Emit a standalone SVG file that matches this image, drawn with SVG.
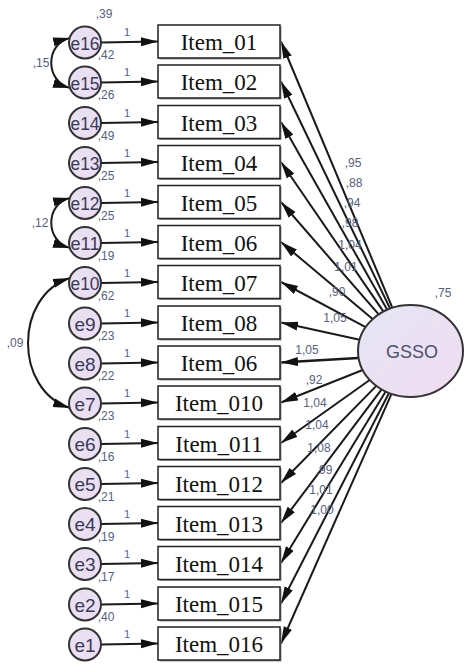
<svg xmlns="http://www.w3.org/2000/svg" width="465" height="664" viewBox="0 0 465 664">
  <defs>
    <marker id="arrow" markerUnits="userSpaceOnUse" markerWidth="18" markerHeight="10" refX="17" refY="5" orient="auto">
      <path d="M0,0.5 L17,5 L0,9.5 Z" fill="#111"/>
    </marker>
    <marker id="arrow2" markerUnits="userSpaceOnUse" markerWidth="18" markerHeight="10" refX="17" refY="5" orient="auto-start-reverse">
      <path d="M0,0.5 L17,5 L0,9.5 Z" fill="#111"/>
    </marker>
    <linearGradient id="errFill" x1="0" y1="0" x2="1" y2="1">
      <stop offset="0" stop-color="#e6e2f2"/>
      <stop offset="1" stop-color="#eedcf2"/>
    </linearGradient>
    <linearGradient id="latFill" x1="0" y1="0" x2="1" y2="1">
      <stop offset="0" stop-color="#e4e6f4"/>
      <stop offset="1" stop-color="#f2dcf2"/>
    </linearGradient>
  </defs>
  <style>
    .box { fill: #fff; stroke: #222; stroke-width: 1.5; }
    .shadow { fill: #9a9a9a; }
    .item { font-family: "Liberation Serif", "Times New Roman", serif; font-size: 23px; fill: #111; text-anchor: middle; }
    .err { fill: url(#errFill); stroke: #333; stroke-width: 2; }
    .elbl { font-family: "Liberation Sans", Arial, sans-serif; font-size: 19px; fill: #3a3a58; text-anchor: middle; }
    .path { stroke: #1a1a1a; stroke-width: 2; fill: none; marker-end: url(#arrow); }
    .cov { stroke: #1a1a1a; stroke-width: 2; fill: none; marker-start: url(#arrow2); marker-end: url(#arrow2); }
    .est { font-family: "Liberation Sans", Arial, sans-serif; font-size: 12px; fill: #56607e; text-anchor: middle; }
    .one { font-family: "Liberation Sans", Arial, sans-serif; font-size: 11px; fill: #4862a0; text-anchor: middle; }
    .lat { fill: url(#latFill); stroke: #333; stroke-width: 2; }
    .latlbl { font-family: "Liberation Sans", Arial, sans-serif; font-size: 18px; fill: #4a5070; text-anchor: middle; }
  </style>

  <!-- connectors: error paths, covariances, loadings -->
  <g id="connectors">
    <line class="path" x1="101" y1="42.5" x2="158" y2="41.5"/>
    <line class="path" x1="101" y1="82.5" x2="158" y2="81.5"/>
    <line class="path" x1="101" y1="123" x2="158" y2="122"/>
    <line class="path" x1="101" y1="163" x2="158" y2="162"/>
    <line class="path" x1="101" y1="203" x2="158" y2="202"/>
    <line class="path" x1="101" y1="243" x2="158" y2="242"/>
    <line class="path" x1="101" y1="283" x2="158" y2="282"/>
    <line class="path" x1="101" y1="323.5" x2="158" y2="322.5"/>
    <line class="path" x1="101" y1="363.5" x2="158" y2="362.5"/>
    <line class="path" x1="101" y1="403.5" x2="158" y2="402.5"/>
    <line class="path" x1="101" y1="444" x2="158" y2="443"/>
    <line class="path" x1="101" y1="484" x2="158" y2="483"/>
    <line class="path" x1="101" y1="524" x2="158" y2="523"/>
    <line class="path" x1="101" y1="564" x2="158" y2="563"/>
    <line class="path" x1="101" y1="604.5" x2="158" y2="603.5"/>
    <line class="path" x1="101" y1="644.5" x2="158" y2="643.5"/>

    <path class="cov" d="M70,38 C45,44 45,81 70,88"/>
    <path class="cov" d="M70,198 C45,204 45,241 70,248"/>
    <path class="cov" d="M70,278 C14,296 14,390 70,408"/>

    <line class="path" x1="392.4" y1="307.8" x2="281" y2="41.5"/>
    <line class="path" x1="390.1" y1="308.6" x2="281" y2="81.5"/>
    <line class="path" x1="387.2" y1="309.8" x2="281" y2="122"/>
    <line class="path" x1="383.5" y1="311.6" x2="281" y2="162"/>
    <line class="path" x1="378.7" y1="314.4" x2="281" y2="202"/>
    <line class="path" x1="372.6" y1="319.1" x2="281" y2="242"/>
    <line class="path" x1="365.6" y1="327.1" x2="281" y2="282"/>
    <line class="path" x1="359.6" y1="339.8" x2="281" y2="322.5"/>
    <line class="path" x1="358.3" y1="358" x2="281" y2="362.5" style="stroke-width:2.5"/>
    <line class="path" x1="362.7" y1="370" x2="281" y2="402.5"/>
    <line class="path" x1="369.7" y1="380" x2="281" y2="443"/>
    <line class="path" x1="376.3" y1="385.9" x2="281" y2="483"/>
    <line class="path" x1="381.6" y1="389.4" x2="281" y2="523"/>
    <line class="path" x1="385.7" y1="391.6" x2="281" y2="563"/>
    <line class="path" x1="389" y1="393" x2="281" y2="603.5"/>
    <line class="path" x1="391.5" y1="393.9" x2="281" y2="643.5"/>
  </g>

  <!-- path weights of 1 -->
  <g id="fixed-weights">
    <text class="one" x="127" y="36">1</text>
    <text class="one" x="127" y="76">1</text>
    <text class="one" x="127" y="116.5">1</text>
    <text class="one" x="127" y="156.5">1</text>
    <text class="one" x="127" y="196.5">1</text>
    <text class="one" x="127" y="236.5">1</text>
    <text class="one" x="127" y="276.5">1</text>
    <text class="one" x="127" y="317">1</text>
    <text class="one" x="127" y="357">1</text>
    <text class="one" x="127" y="397">1</text>
    <text class="one" x="127" y="437.5">1</text>
    <text class="one" x="127" y="477.5">1</text>
    <text class="one" x="127" y="517.5">1</text>
    <text class="one" x="127" y="557.5">1</text>
    <text class="one" x="127" y="598">1</text>
    <text class="one" x="127" y="638">1</text>
  </g>

  <!-- covariance estimates -->
  <g id="covariances">
    <text class="est" x="41" y="67">,15</text>
    <text class="est" x="40" y="227">,12</text>
    <text class="est" x="15" y="347">,09</text>
  </g>

  <!-- loading estimates -->
  <g id="loadings">
    <text class="est" x="353" y="167">,95</text>
    <text class="est" x="354" y="187">,88</text>
    <text class="est" x="352" y="207">,94</text>
    <text class="est" x="350" y="227">,98</text>
    <text class="est" x="350" y="249">1,04</text>
    <text class="est" x="346" y="271">1,01</text>
    <text class="est" x="337" y="296">,90</text>
    <text class="est" x="335" y="322">1,05</text>
    <text class="est" x="307" y="354">1,05</text>
    <text class="est" x="314" y="384">,92</text>
    <text class="est" x="315" y="407">1,04</text>
    <text class="est" x="317" y="429">1,04</text>
    <text class="est" x="319" y="452">1,08</text>
    <text class="est" x="324" y="474">,99</text>
    <text class="est" x="321" y="494">1,01</text>
    <text class="est" x="322" y="514">1,00</text>
  </g>

  <!-- observed items -->
  <g id="item01"><rect class="shadow" x="159.5" y="26.5" width="122" height="33"/><rect class="box" x="158" y="25" width="122" height="33"/><text class="item" x="219" y="50">Item_01</text></g>
  <g id="item02"><rect class="shadow" x="159.5" y="66.5" width="122" height="33"/><rect class="box" x="158" y="65" width="122" height="33"/><text class="item" x="219" y="90">Item_02</text></g>
  <g id="item03"><rect class="shadow" x="159.5" y="107" width="122" height="33"/><rect class="box" x="158" y="105.5" width="122" height="33"/><text class="item" x="219" y="130.5">Item_03</text></g>
  <g id="item04"><rect class="shadow" x="159.5" y="147" width="122" height="33"/><rect class="box" x="158" y="145.5" width="122" height="33"/><text class="item" x="219" y="170.5">Item_04</text></g>
  <g id="item05"><rect class="shadow" x="159.5" y="187" width="122" height="33"/><rect class="box" x="158" y="185.5" width="122" height="33"/><text class="item" x="219" y="210.5">Item_05</text></g>
  <g id="item06"><rect class="shadow" x="159.5" y="227" width="122" height="33"/><rect class="box" x="158" y="225.5" width="122" height="33"/><text class="item" x="219" y="250.5">Item_06</text></g>
  <g id="item07"><rect class="shadow" x="159.5" y="267" width="122" height="33"/><rect class="box" x="158" y="265.5" width="122" height="33"/><text class="item" x="219" y="290.5">Item_07</text></g>
  <g id="item08"><rect class="shadow" x="159.5" y="307.5" width="122" height="33"/><rect class="box" x="158" y="306" width="122" height="33"/><text class="item" x="219" y="331">Item_08</text></g>
  <g id="item09"><rect class="shadow" x="159.5" y="347.5" width="122" height="33"/><rect class="box" x="158" y="346" width="122" height="33"/><text class="item" x="219" y="371">Item_06</text></g>
  <g id="item10"><rect class="shadow" x="159.5" y="387.5" width="122" height="33"/><rect class="box" x="158" y="386" width="122" height="33"/><text class="item" x="219" y="411">Item_010</text></g>
  <g id="item11"><rect class="shadow" x="159.5" y="428" width="122" height="33"/><rect class="box" x="158" y="426.5" width="122" height="33"/><text class="item" x="219" y="451.5">Item_011</text></g>
  <g id="item12"><rect class="shadow" x="159.5" y="468" width="122" height="33"/><rect class="box" x="158" y="466.5" width="122" height="33"/><text class="item" x="219" y="491.5">Item_012</text></g>
  <g id="item13"><rect class="shadow" x="159.5" y="508" width="122" height="33"/><rect class="box" x="158" y="506.5" width="122" height="33"/><text class="item" x="219" y="531.5">Item_013</text></g>
  <g id="item14"><rect class="shadow" x="159.5" y="548" width="122" height="33"/><rect class="box" x="158" y="546.5" width="122" height="33"/><text class="item" x="219" y="571.5">Item_014</text></g>
  <g id="item15"><rect class="shadow" x="159.5" y="588.5" width="122" height="33"/><rect class="box" x="158" y="587" width="122" height="33"/><text class="item" x="219" y="612">Item_015</text></g>
  <g id="item16"><rect class="shadow" x="159.5" y="628.5" width="122" height="33"/><rect class="box" x="158" y="627" width="122" height="33"/><text class="item" x="219" y="652">Item_016</text></g>

  <!-- error terms -->
  <g id="e16"><circle class="err" cx="85" cy="42.5" r="16"/><text class="elbl" x="85" y="49.5" textLength="29" lengthAdjust="spacingAndGlyphs">e16</text></g>
  <g id="e15"><circle class="err" cx="85" cy="82.5" r="16"/><text class="elbl" x="85" y="89.5" textLength="29" lengthAdjust="spacingAndGlyphs">e15</text></g>
  <g id="e14"><circle class="err" cx="85" cy="123" r="16"/><text class="elbl" x="85" y="130" textLength="29" lengthAdjust="spacingAndGlyphs">e14</text></g>
  <g id="e13"><circle class="err" cx="85" cy="163" r="16"/><text class="elbl" x="85" y="170" textLength="29" lengthAdjust="spacingAndGlyphs">e13</text></g>
  <g id="e12"><circle class="err" cx="85" cy="203" r="16"/><text class="elbl" x="85" y="210" textLength="29" lengthAdjust="spacingAndGlyphs">e12</text></g>
  <g id="e11"><circle class="err" cx="85" cy="243" r="16"/><text class="elbl" x="85" y="250" textLength="29" lengthAdjust="spacingAndGlyphs">e11</text></g>
  <g id="e10"><circle class="err" cx="85" cy="283" r="16"/><text class="elbl" x="85" y="290" textLength="29" lengthAdjust="spacingAndGlyphs">e10</text></g>
  <g id="e9"><circle class="err" cx="85" cy="323.5" r="16"/><text class="elbl" x="85" y="330.5">e9</text></g>
  <g id="e8"><circle class="err" cx="85" cy="363.5" r="16"/><text class="elbl" x="85" y="370.5">e8</text></g>
  <g id="e7"><circle class="err" cx="85" cy="403.5" r="16"/><text class="elbl" x="85" y="410.5">e7</text></g>
  <g id="e6"><circle class="err" cx="85" cy="444" r="16"/><text class="elbl" x="85" y="451">e6</text></g>
  <g id="e5"><circle class="err" cx="85" cy="484" r="16"/><text class="elbl" x="85" y="491">e5</text></g>
  <g id="e4"><circle class="err" cx="85" cy="524" r="16"/><text class="elbl" x="85" y="531">e4</text></g>
  <g id="e3"><circle class="err" cx="85" cy="564" r="16"/><text class="elbl" x="85" y="571">e3</text></g>
  <g id="e2"><circle class="err" cx="85" cy="604.5" r="16"/><text class="elbl" x="85" y="611.5">e2</text></g>
  <g id="e1"><circle class="err" cx="85" cy="644.5" r="16"/><text class="elbl" x="85" y="651.5">e1</text></g>

  <!-- error variances -->
  <g id="variances">
    <text class="est" x="104" y="18">,39</text>
    <text class="est" x="106" y="59">,42</text>
    <text class="est" x="106" y="99">,26</text>
    <text class="est" x="106" y="139.5">,49</text>
    <text class="est" x="106" y="179.5">,25</text>
    <text class="est" x="106" y="219.5">,25</text>
    <text class="est" x="106" y="259.5">,19</text>
    <text class="est" x="106" y="299.5">,62</text>
    <text class="est" x="106" y="340">,23</text>
    <text class="est" x="106" y="380">,22</text>
    <text class="est" x="106" y="420">,23</text>
    <text class="est" x="106" y="460.5">,16</text>
    <text class="est" x="106" y="500.5">,21</text>
    <text class="est" x="106" y="540.5">,19</text>
    <text class="est" x="106" y="580.5">,17</text>
    <text class="est" x="106" y="621">,40</text>
  </g>

  <!-- latent factor -->
  <g id="GSSO">
    <ellipse class="lat" cx="410.5" cy="351" rx="52.5" ry="46"/>
    <text class="latlbl" x="412" y="357.5">GSSO</text>
    <text class="est" x="443" y="297">,75</text>
  </g>
</svg>
